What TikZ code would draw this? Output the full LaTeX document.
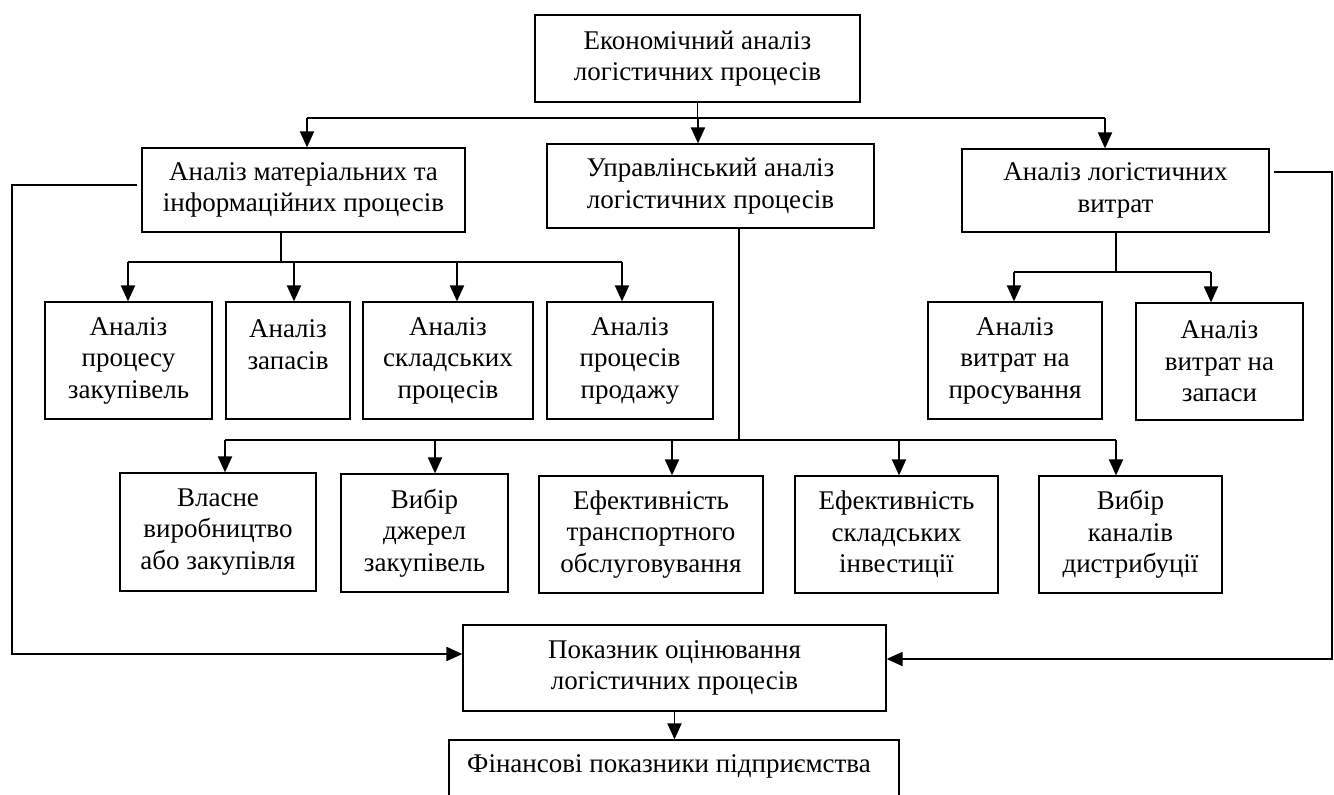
\documentclass[tikz,border=0pt]{standalone}
\usepackage{fontspec}
\setmainfont{Liberation Serif}
\usetikzlibrary{arrows.meta}
\begin{document}
\begin{tikzpicture}[x=1pt,y=-1pt,
  txt/.style={font=\fontsize{27}{31.5}\selectfont},
  box/.style={draw,line width=1.2pt,inner sep=0pt,align=center,txt},
  conn/.style={line width=1.9pt},
  arr/.style={conn,-{Triangle[length=16pt,width=14pt]}}]
\useasboundingbox (0,0) rectangle (1334,795);
\clip (0,0) rectangle (1334,795);
% level 0
\node[box,minimum width=325pt,minimum height=87pt] (top) at (697.5,58.5) {Економічний аналіз\\логістичних процесів};
% level 1
\node[box,minimum width=323pt,minimum height=84pt] (L1) at (303.5,190) {Аналіз матеріальних та\\інформаційних процесів};
\node[box,minimum width=327pt,minimum height=84pt] (M) at (710.5,186) {Управлінський аналіз\\логістичних процесів};
\node[box,minimum width=307pt,minimum height=83pt] (R1) at (1115.5,190.5) {Аналіз логістичних\\витрат};
% level 2 left
\node[box,minimum width=167pt,minimum height=117pt] (b1) at (128.5,360.5) {Аналіз\\процесу\\закупівель};
\node[box,minimum width=124pt,minimum height=117pt] (b2) at (288,360.5) {Аналіз\\запасів\\\mbox{}};
\node[box,minimum width=170pt,minimum height=117pt] (b3) at (448,360.5) {Аналіз\\складських\\процесів};
\node[box,minimum width=166pt,minimum height=117pt] (b4) at (630,360.5) {Аналіз\\процесів\\продажу};
% level 2 right
\node[box,minimum width=174pt,minimum height=117pt] (r2a) at (1015,360.5) {Аналіз\\витрат на\\просування};
\node[box,minimum width=167pt,minimum height=117pt] (r2b) at (1219.5,361.5) {Аналіз\\витрат на\\запаси};
% level 3
\node[box,minimum width=196pt,minimum height=118pt] (c1) at (218,532) {Власне\\виробництво\\або закупівля};
\node[box,minimum width=167pt,minimum height=118pt] (c2) at (424.5,533) {Вибір\\джерел\\закупівель};
\node[box,minimum width=224pt,minimum height=117pt] (c3) at (651,534.5) {Ефективність\\транспортного\\обслуговування};
\node[box,minimum width=203pt,minimum height=117pt] (c4) at (896.5,534.5) {Ефективність\\складських\\інвестиції};
\node[box,minimum width=183pt,minimum height=117pt] (c5) at (1130.5,534.5) {Вибір\\каналів\\дистрибуції};
% bottom
\node[box,minimum width=423pt,minimum height=86pt] (P) at (674.5,668) {Показник оцінювання\\логістичних процесів};
\node[box,minimum width=450pt,minimum height=66pt] (F) at (674,773) {};
\node[txt,inner sep=0pt] (Ft) at (669,766) {Фінансові показники підприємства};
% top bus
\coordinate (bT) at (0,118);
\coordinate (aL1) at (307,118);
\coordinate (aM) at (698,118);
\coordinate (aR1) at (1105,118);
\draw[conn] (top.south) -- (top.south |- bT);
\draw[conn] (aL1) -- (aR1);
\draw[arr] (aL1) -- (aL1 |- L1.north);
\draw[arr] (aM) -- (aM |- M.north);
\draw[arr] (aR1) -- (aR1 |- R1.north);
% left group
\coordinate (sL) at (281,262);
\coordinate (a1) at (128,262);
\coordinate (a2) at (294,262);
\coordinate (a3) at (457,262);
\coordinate (a4) at (622,262);
\draw[conn] (sL |- L1.south) -- (sL);
\draw[conn] (a1) -- (a4);
\draw[arr] (a1) -- (a1 |- b1.north);
\draw[arr] (a2) -- (a2 |- b2.north);
\draw[arr] (a3) -- (a3 |- b3.north);
\draw[arr] (a4) -- (a4 |- b4.north);
% right group
\coordinate (sR) at (1116,272);
\coordinate (ra) at (1014,272);
\coordinate (rb) at (1211,272);
\draw[conn] (sR |- R1.south) -- (sR);
\draw[conn] (ra) -- (rb);
\draw[arr] (ra) -- (ra |- r2a.north);
\draw[arr] (rb) -- (rb |- r2b.north);
% middle group
\coordinate (sM) at (739,440);
\coordinate (m1) at (225,440);
\coordinate (m2) at (435,440);
\coordinate (m3) at (672,440);
\coordinate (m4) at (899,440);
\coordinate (m5) at (1116,440);
\draw[conn] (sM |- M.south) -- (sM);
\draw[conn] (m1) -- (m5);
\draw[arr] (m1) -- (m1 |- c1.north);
\draw[arr] (m2) -- (m2 |- c2.north);
\draw[arr] (m3) -- (m3 |- c3.north);
\draw[arr] (m4) -- (m4 |- c4.north);
\draw[arr] (m5) -- (m5 |- c5.north);
% feedback lines
\coordinate (fl0) at (137,185);
\coordinate (fl1) at (12,185);
\coordinate (fl2) at (12,654);
\draw[arr] (fl0) -- (fl1) -- (fl2) -- (fl2 -| P.west);
\coordinate (fr0) at (1274,172);
\coordinate (fr1) at (1332,172);
\coordinate (fr2) at (1332,659);
\draw[arr] (fr0) -- (fr1) -- (fr2) -- (fr2 -| P.east);
% down to F
\draw[arr] (P.south) -- (P.south |- F.north);
\end{tikzpicture}
\end{document}
